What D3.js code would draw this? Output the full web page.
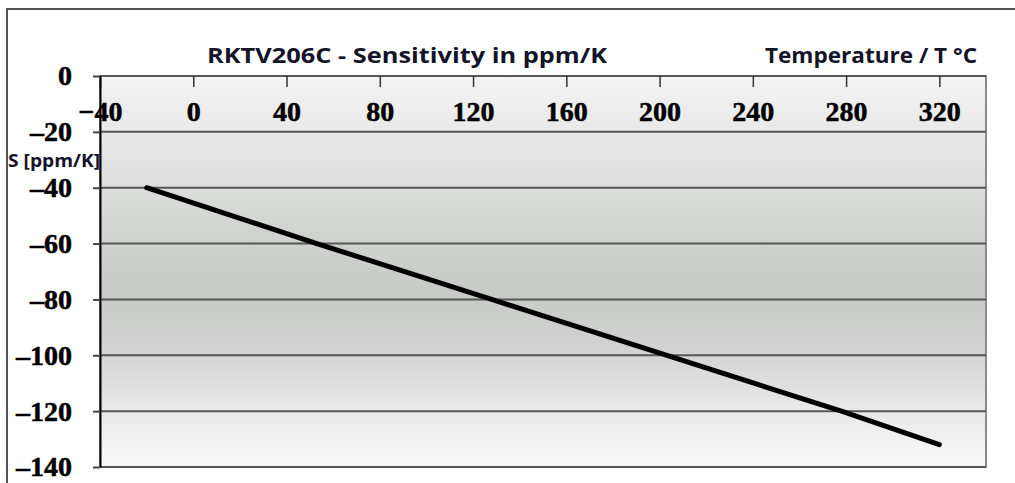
<!DOCTYPE html>
<html>
<head>
<meta charset="utf-8">
<script src="https://cdn.jsdelivr.net/npm/d3@7"></script>
<style>
  body { margin: 0; background: #fff; }
  .ax text { font-family: "Liberation Serif", "DejaVu Serif", serif; font-weight: bold; font-size: 28px; fill: #000; stroke: #000; stroke-width: 0.5px; }
  .lbl { font-family: "Open Sans", sans-serif; font-weight: 700; fill: #141428; }
</style>
</head>
<body>
<script>
// values
const temperature = [-20, 53, 128, 278, 320];
const sensitivity = [-40, -60, -80, -120, -132];
const xTicks = [-40, 0, 40, 80, 120, 160, 200, 240, 280, 320];
const yTicks = [0, -20, -40, -60, -80, -100, -120, -140];
const title = "RKTV206C - Sensitivity in ppm/K";
const xTitle = "Temperature / T \u00b0C";
const yTitle = "S [ppm/K]";

const width = 1015;
const height = 483;
const plotLeft = 100, plotRight = 986, plotTop = 76, plotBottom = 467;

const svg = d3.select("body").append("svg")
  .attr("width", width)
  .attr("height", height);

// outer frame (right / bottom edges fall outside the picture)
svg.append("rect")
  .attr("x", 7).attr("y", 9)
  .attr("width", width).attr("height", height)
  .attr("fill", "#fff")
  .attr("stroke", "#555").attr("stroke-width", 2);

const xScale = d3.scaleLinear().domain([-40, 340]).range([plotLeft, plotRight]);
const yScale = d3.scaleLinear().domain([0, -140]).range([plotTop, plotBottom]);

// plot background gradient
const grad = svg.append("defs").append("linearGradient")
  .attr("id", "bg").attr("x1", 0).attr("y1", 0).attr("x2", 0).attr("y2", 1);
[[0, "#f3f3f3"], [0.2, "#e4e5e4"], [0.4, "#d1d3d1"], [0.55, "#c8cac8"],
 [0.7, "#d1d2d1"], [0.85, "#e8e8e8"], [1, "#f8f8f8"]].forEach(function(s) {
  grad.append("stop").attr("offset", s[0]).attr("stop-color", s[1]);
});

svg.append("rect")
  .attr("x", plotLeft).attr("y", plotTop)
  .attr("width", plotRight - plotLeft).attr("height", plotBottom - plotTop)
  .attr("fill", "url(#bg)")
  .attr("stroke", "#8a8a8a").attr("stroke-width", 2);

// grid lines
svg.append("g")
  .selectAll("line")
  .data(yTicks)
  .enter()
  .append("line")
  .attr("x1", plotLeft).attr("x2", plotRight)
  .attr("y1", function(d) { return yScale(d); })
  .attr("y2", function(d) { return yScale(d); })
  .attr("stroke", "#565656")
  .attr("stroke-width", 2);

// x axis along the top, labels inside the plot
const xAxis = d3.axisBottom(xScale)
  .tickValues(xTicks)
  .tickSizeInner(11)
  .tickSizeOuter(0)
  .tickPadding(14);

svg.append("g")
  .attr("class", "ax")
  .attr("transform", `translate(0, ${plotTop})`)
  .call(xAxis)
  .call(function(g) { g.select(".domain").remove(); })
  .call(function(g) { g.selectAll(".tick line").attr("stroke", "#333").attr("stroke-width", 1.5); });

// y axis
const yAxis = d3.axisLeft(yScale)
  .tickValues(yTicks)
  .tickSizeInner(7)
  .tickSizeOuter(0)
  .tickPadding(21)
  .tickFormat(function(d) { return d < 0 ? "\u2013" + Math.abs(d) : d; });

svg.append("g")
  .attr("class", "ax")
  .attr("transform", `translate(${plotLeft}, 0)`)
  .call(yAxis)
  .call(function(g) { g.select(".domain").attr("stroke", "#000").attr("stroke-width", 2); })
  .call(function(g) { g.selectAll(".tick line").attr("stroke", "#444").attr("stroke-width", 2); });

// series line
const pts = temperature.map(function(t, i) { return [t, sensitivity[i]]; });
svg.append("path")
  .datum(pts)
  .attr("fill", "none")
  .attr("stroke", "#000")
  .attr("stroke-width", 5)
  .attr("stroke-linecap", "round")
  .attr("d", d3.line()
    .x(function(d) { return xScale(d[0]); })
    .y(function(d) { return yScale(d[1]); }));

// titles
svg.append("text")
  .attr("class", "lbl")
  .attr("x", 207).attr("y", 63)
  .attr("font-size", 22)
  .attr("textLength", 400)
  .attr("lengthAdjust", "spacingAndGlyphs")
  .text(title);

svg.append("text")
  .attr("class", "lbl")
  .attr("x", 765).attr("y", 63)
  .attr("font-size", 22)
  .attr("textLength", 212)
  .attr("lengthAdjust", "spacingAndGlyphs")
  .text(xTitle);

svg.append("text")
  .attr("class", "lbl")
  .attr("x", 8).attr("y", 167)
  .attr("font-size", 18)
  .attr("textLength", 92)
  .attr("lengthAdjust", "spacingAndGlyphs")
  .text(yTitle);
</script>
</body>
</html>
